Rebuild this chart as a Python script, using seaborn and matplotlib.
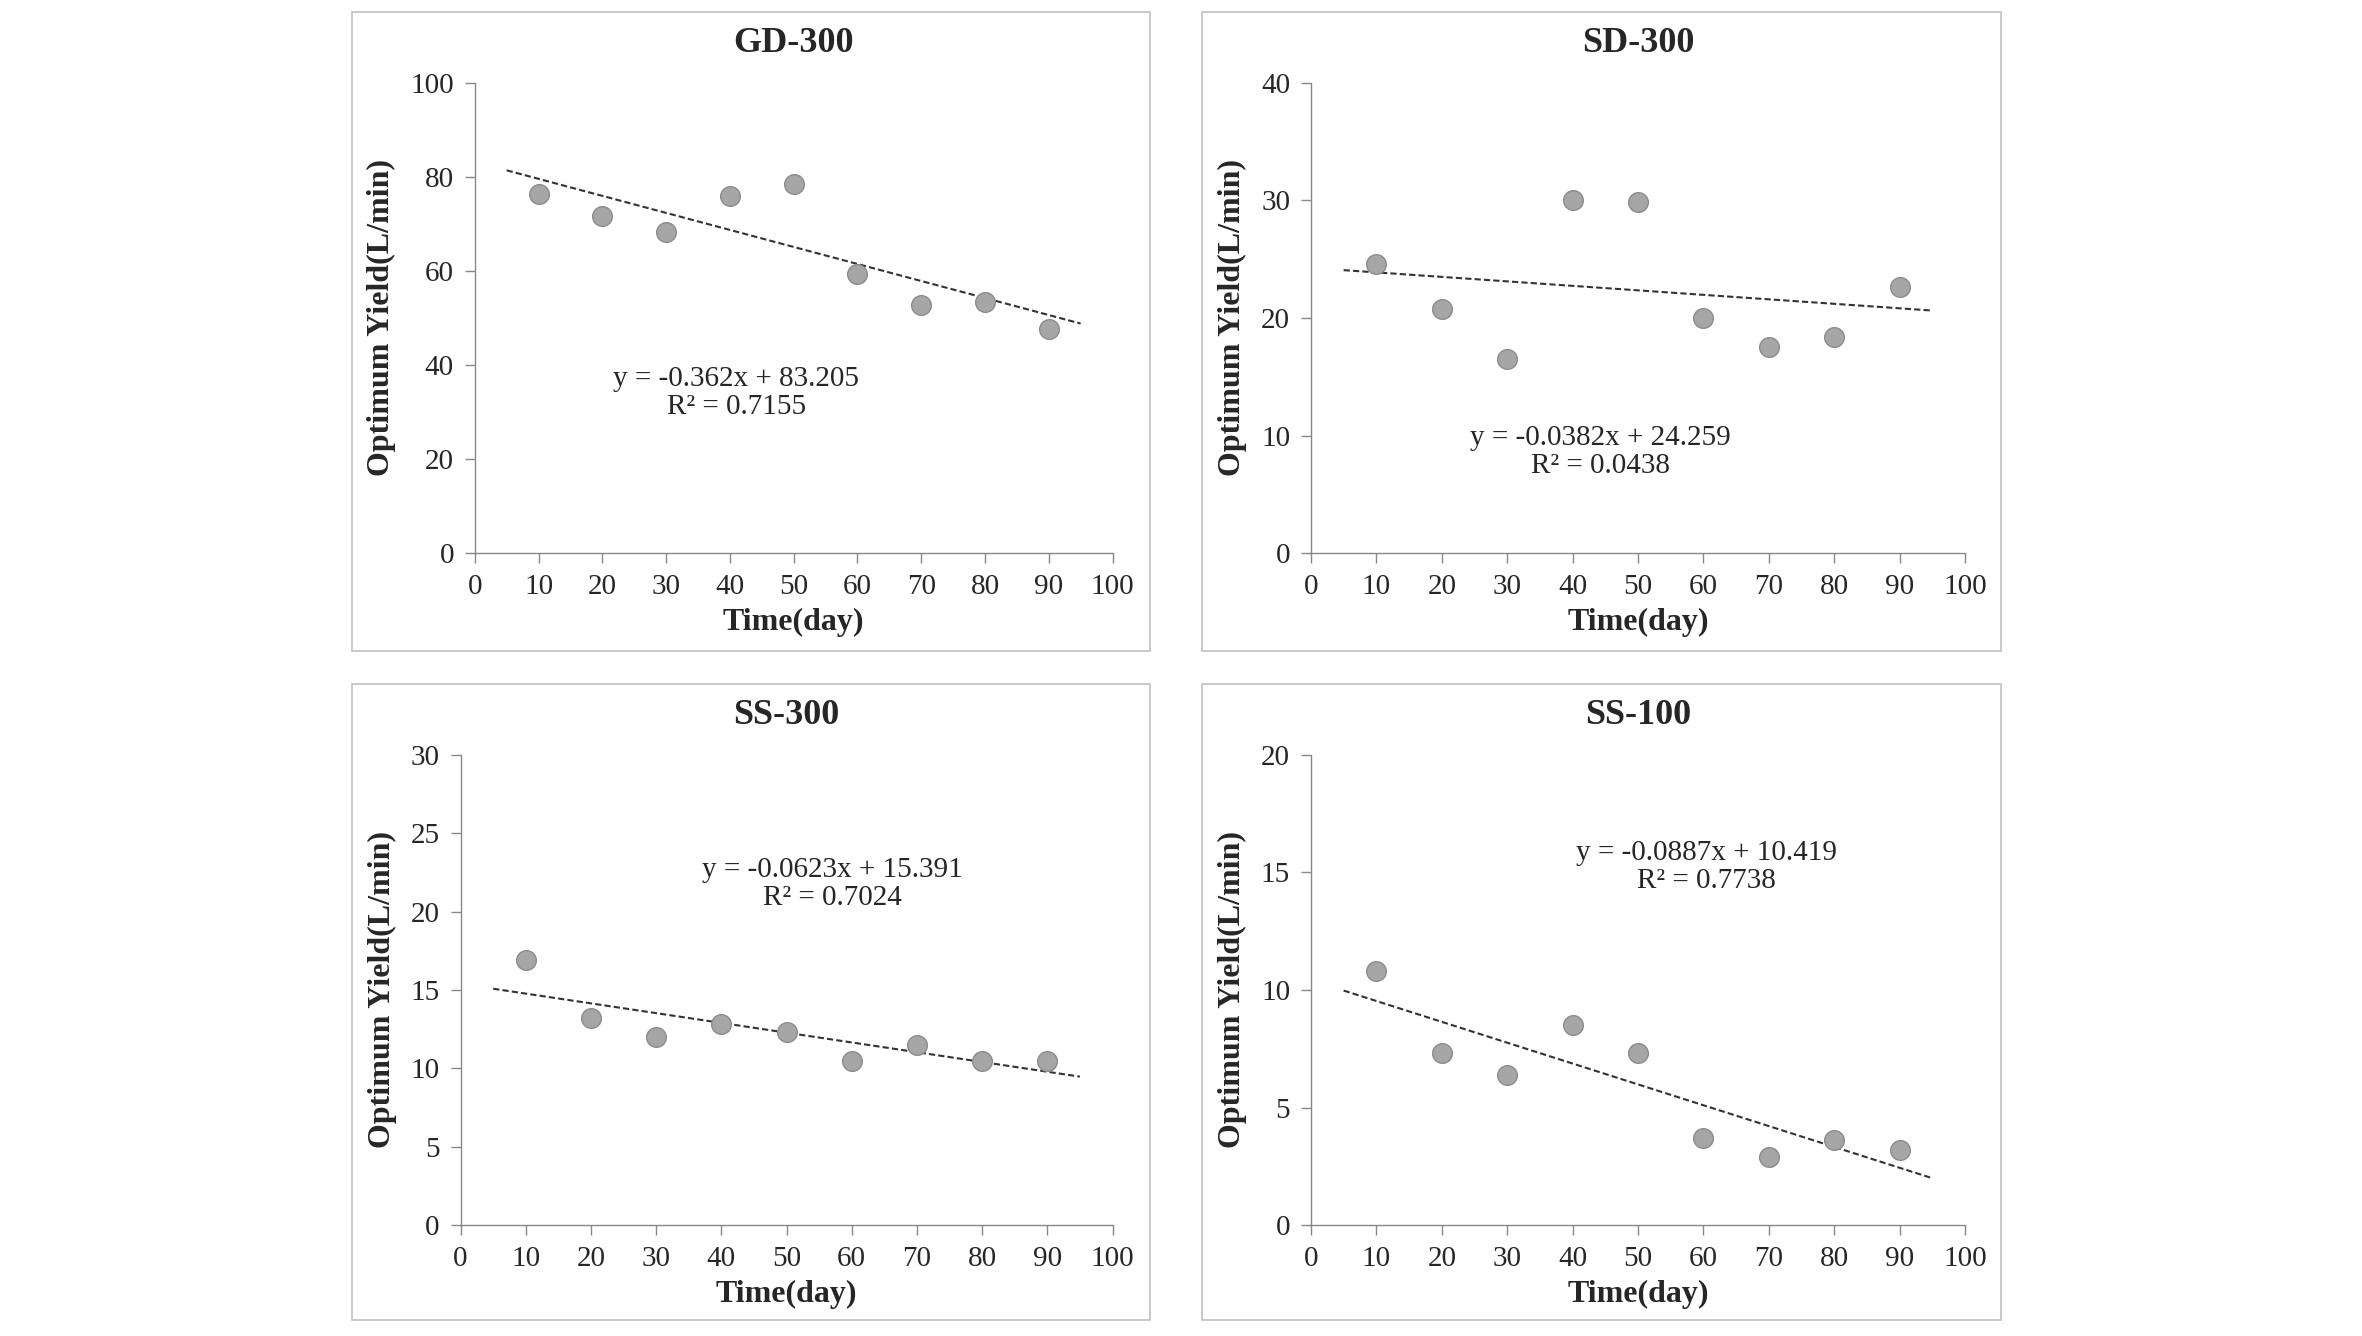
import numpy as np
import pandas as pd
import matplotlib.pyplot as plt
import seaborn as sns
from matplotlib.patches import Rectangle

# Data
days = [10, 20, 30, 40, 50, 60, 70, 80, 90]
gd300 = [76.3, 71.6, 68.3, 76.0, 78.4, 59.3, 52.8, 53.3, 47.7]
sd300 = [24.6, 20.8, 16.5, 30.0, 29.9, 20.0, 17.5, 18.4, 22.6]
ss300 = [16.9, 13.2, 12.0, 12.8, 12.3, 10.5, 11.5, 10.5, 10.5]
ss100 = [10.8, 7.3, 6.4, 8.5, 7.3, 3.7, 2.9, 3.6, 3.2]

names = ["GD-300", "SD-300", "SS-300", "SS-100"]
slopes = [-0.362, -0.0382, -0.0623, -0.0887]
intercepts = [83.205, 24.259, 15.391, 10.419]
r2 = ["0.7155", "0.0438", "0.7024", "0.7738"]
eq_text = ["y = -0.362x + 83.205", "y = -0.0382x + 24.259",
           "y = -0.0623x + 15.391", "y = -0.0887x + 10.419"]
y_max = [100, 40, 30, 20]
y_step = [20, 10, 5, 5]
trend_x = [5, 95]

sns.set_style("white")
plt.rcParams['font.family'] = ['Liberation Serif', 'DejaVu Serif']

fig = plt.figure(figsize=(23.62, 13.36), dpi=100)

# axes rects [left, bottom, width, height] and outer boxes
ax_rects = [[0.201, 0.586, 0.270, 0.352],
            [0.555, 0.586, 0.277, 0.352],
            [0.195, 0.083, 0.276, 0.352],
            [0.555, 0.083, 0.277, 0.352]]
box_rects = [[0.149, 0.513, 0.338, 0.478],
             [0.509, 0.513, 0.338, 0.478],
             [0.149, 0.012, 0.338, 0.476],
             [0.509, 0.012, 0.338, 0.476]]
eq_pos = [(0.41, 0.34), (0.442, 0.216), (0.57, 0.725), (0.604, 0.762)]

series = [gd300, sd300, ss300, ss100]

for i in range(4):
    b = box_rects[i]
    fig.patches.append(Rectangle((b[0], b[1]), b[2], b[3], transform=fig.transFigure,
                                 fill=False, edgecolor="#c0c0c0", linewidth=1.2))
    ax = fig.add_axes(ax_rects[i])
    df = pd.DataFrame({"day": days, "yield": series[i]})
    tr = pd.DataFrame({"day": trend_x,
                       "yield": [slopes[i] * x + intercepts[i] for x in trend_x]})
    sns.lineplot(data=tr, x="day", y="yield", ax=ax, color="#333333",
                 linewidth=1.5, linestyle=(0, (3, 1.5)))
    sns.scatterplot(data=df, x="day", y="yield", ax=ax, s=200, color="#a6a6a6",
                    edgecolor="#8c8c8c", linewidth=1.0, zorder=3)

    ax.set_xlim(0, 100)
    ax.set_ylim(0, y_max[i])
    ax.set_xticks(range(0, 101, 10))
    ax.set_yticks(np.arange(0, y_max[i] + 0.1, y_step[i]))
    ax.tick_params(axis="both", labelsize=21, length=7, width=1, color="#888888",
                   direction="out", pad=8, left=True, bottom=True)
    for s in ["top", "right"]:
        ax.spines[s].set_visible(False)
    for s in ["left", "bottom"]:
        ax.spines[s].set_color("#888888")
        ax.spines[s].set_linewidth(1.0)
    ax.set_xlabel("Time(day)", fontsize=23, fontweight="bold", labelpad=6)
    ax.set_ylabel("Optimum Yield(L/min)", fontsize=23, fontweight="bold", labelpad=10)
    ax.set_title(names[i], fontsize=26, fontweight="bold", pad=22)
    ax.text(eq_pos[i][0], eq_pos[i][1], eq_text[i] + "\nR² = " + r2[i],
            transform=ax.transAxes, ha="center", va="center", fontsize=21,
            linespacing=1.1)

fig.savefig("out.png", dpi=100, facecolor="white")
